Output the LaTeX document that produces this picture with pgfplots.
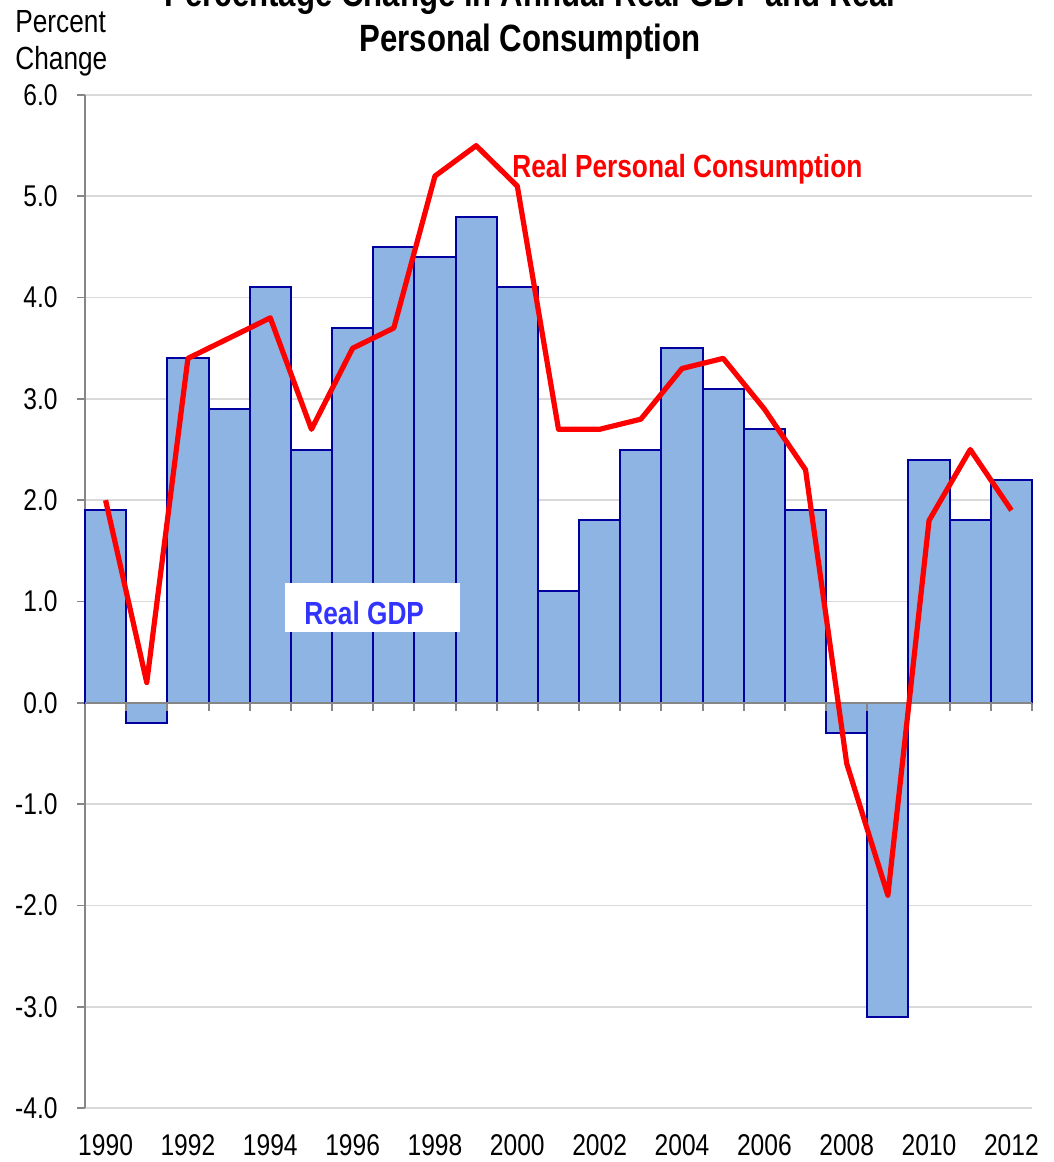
\documentclass[border=0pt]{standalone}
\usepackage{fontspec}
\setmainfont[FakeStretch=0.82]{Liberation Sans}
\usepackage{pgfplots}
\pgfplotsset{compat=1.18}
\definecolor{barfill}{RGB}{141,180,226}
\definecolor{baredge}{RGB}{0,0,160}
\definecolor{gridgray}{RGB}{217,217,217}
\definecolor{axgray}{RGB}{134,134,134}
\definecolor{gdpblue}{RGB}{51,51,255}
\begin{document}
\begin{tikzpicture}
\begin{axis}[
  scale only axis, width=473.5pt, height=506.5pt,
  xmin=-0.5, xmax=22.5, ymin=-4, ymax=6,
  axis y line*=left, axis x line*=bottom,
  x axis line style={draw=none},
  y axis line style={draw=axgray, line width=0.8pt},
  xtick={0,2,...,22},
  xticklabels={1990,1992,1994,1996,1998,2000,2002,2004,2006,2008,2010,2012},
  x tick style={draw=none},
  xticklabel style={anchor=base, inner sep=0pt, yshift=-19.5pt},
  ytick={-4,-3,...,6},
  y tick style={draw=axgray, line width=0.8pt},
  tick align=outside, major tick length=4pt,
  yticklabel style={anchor=east, inner sep=0pt, xshift=-9.5pt, /pgf/number format/fixed, /pgf/number format/fixed zerofill, /pgf/number format/precision=1},
  ticklabel style={font=\fontsize{15}{18}\selectfont},
  /pgf/number format/assume math mode=true,
  ymajorgrids, grid style={draw=gridgray, line width=0.8pt},
  clip=false,
]
% x = year - 1990
\addplot[ybar, bar width=1, fill=barfill, draw=baredge, line width=1pt] coordinates {
(0,1.9) (1,-0.2) (2,3.4) (3,2.9) (4,4.1) (5,2.5) (6,3.7) (7,4.5)
(8,4.4) (9,4.8) (10,4.1) (11,1.1) (12,1.8) (13,2.5) (14,3.5) (15,3.1)
(16,2.7) (17,1.9) (18,-0.3) (19,-3.1) (20,2.4) (21,1.8) (22,2.2)};
\draw[axgray, line width=1pt] (axis cs:-0.5,0) -- (axis cs:22.5,0);
\pgfplotsinvokeforeach{0.5,1.5,...,22.5}{\draw[axgray, line width=1pt] (axis cs:#1,0) -- ([yshift=-4pt]axis cs:#1,0);}
\addplot[red, line width=2.6pt, line join=round] coordinates {
(0,2.0) (1,0.2) (2,3.4) (3,3.6) (4,3.8) (5,2.7) (6,3.5) (7,3.7)
(8,5.2) (9,5.5) (10,5.1) (11,2.7) (12,2.7) (13,2.8) (14,3.3) (15,3.4)
(16,2.9) (17,2.3) (18,-0.6) (19,-1.9) (20,1.8) (21,2.5) (22,1.9)};
\end{axis}
\node[anchor=base, inner sep=0pt, font=\bfseries\fontsize{19}{22}\selectfont] at (222.5pt,550.5pt) {Percentage Change in Annual Real GDP and Real};
\node[anchor=base, inner sep=0pt, font=\bfseries\fontsize{19}{22}\selectfont] at (222.5pt,528pt) {Personal Consumption};
\node[anchor=base west, inner sep=0pt, font=\fontsize{16}{19}\selectfont] at (-35pt,537.5pt) {Percent};
\node[anchor=base west, inner sep=0pt, font=\fontsize{16}{19}\selectfont] at (-35pt,519pt) {Change};
\node[anchor=base west, inner sep=0pt, text=red, font=\bfseries\fontsize{16}{19}\selectfont] at (213.5pt,465pt) {Real Personal Consumption};
\fill[white] (100pt,238pt) rectangle (187.5pt,262.5pt);
\node[anchor=base west, inner sep=0pt, text=gdpblue, font=\bfseries\fontsize{16}{19}\selectfont] at (109.5pt,241.5pt) {Real GDP};
\pgfresetboundingbox
\useasboundingbox (-42.5pt,-27pt) rectangle (484.5pt,554pt);
\end{tikzpicture}
\end{document}
